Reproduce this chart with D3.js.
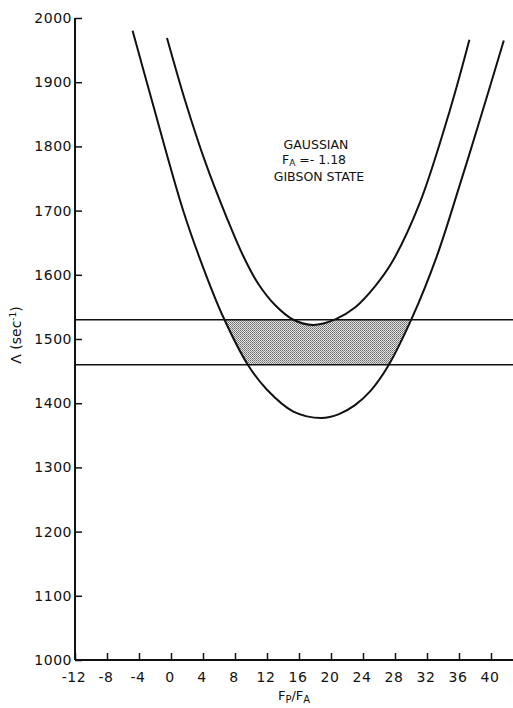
<!DOCTYPE html>
<html>
<head>
<meta charset="utf-8">
<script src="https://cdn.jsdelivr.net/npm/d3@7"></script>
<style>
    body { margin: 0; background: white; }
    text { font-family: "DejaVu Sans", "Liberation Sans", sans-serif; fill: #111; }
</style>
</head>
<body>
<script>
// tick values
const xTicks = [-12, -8, -4, 0, 4, 8, 12, 16, 20, 24, 28, 32, 36, 40];
const yTicks = [1000, 1100, 1200, 1300, 1400, 1500, 1600, 1700, 1800, 1900, 2000];

// lower (outer) curve: Fp/Fa and Lambda
const lowerX = [-4.8, -2.4, 1.5, 4, 6.5, 9.6, 12, 15.3, 18.8, 21, 23, 25, 27.1, 30.1, 33.2, 36.1, 38.7, 41.6];
const lowerY = [1980, 1872, 1701, 1612, 1535, 1460, 1421, 1387, 1377, 1383, 1397, 1420, 1457, 1532, 1628, 1740, 1845, 1965];

// upper (inner) curve
const upperX = [-0.5, 1.75, 4.3, 7, 9, 10.9, 13, 15.3, 17.8, 20.6, 23, 25.5, 27.6, 31.1, 34.9, 37.3];
const upperY = [1969, 1872, 1775, 1688, 1630, 1586, 1553, 1530, 1522, 1531, 1549, 1582, 1619, 1712, 1858, 1966];

// horizontal band limits
const bandLines = [1530, 1460];

const width = 513;
const height = 708;

let svg = d3.select('body')
    .append('svg')
    .attr('width', width)
    .attr('height', height);

const x = d3.scaleLinear().domain([-12, 40]).range([75, 491]);
const y = d3.scaleLinear().domain([1000, 2000]).range([660, 18]);

const lower = lowerX.map((d, i) => [d, lowerY[i]]);
const upper = upperX.map((d, i) => [d, upperY[i]]);

// stipple pattern for the shaded band
let defs = svg.append('defs');
let pat = defs.append('pattern')
    .attr('id', 'dots')
    .attr('width', 2)
    .attr('height', 2)
    .attr('patternUnits', 'userSpaceOnUse');
pat.append('rect').attr('width', 2).attr('height', 2).attr('fill', '#e6e6e6');
pat.append('rect').attr('width', 1).attr('height', 1).attr('fill', '#666');
pat.append('rect').attr('x', 1).attr('y', 1).attr('width', 1).attr('height', 1).attr('fill', '#8a8a8a');

defs.append('clipPath')
    .attr('id', 'band')
    .append('rect')
    .attr('x', x(-12))
    .attr('y', y(bandLines[0]))
    .attr('width', width - x(-12))
    .attr('height', y(bandLines[1]) - y(bandLines[0]));

const line = d3.line()
    .x(d => x(d[0]))
    .y(d => y(d[1]))
    .curve(d3.curveCatmullRom.alpha(0.5));

// shaded region: between the two curves, inside the band
const shadePath = line(lower) + 'L' + line(upper.slice().reverse()).slice(1) + 'Z';
svg.append('path')
    .attr('d', shadePath)
    .attr('fill', 'url(#dots)')
    .attr('clip-path', 'url(#band)');

// band lines
svg.selectAll('.band')
    .data(bandLines)
    .enter()
    .append('line')
    .attr('x1', x(-12))
    .attr('x2', width)
    .attr('y1', d => y(d))
    .attr('y2', d => y(d))
    .style('stroke', '#111')
    .style('stroke-width', 1.5);

// curves
svg.selectAll('.curve')
    .data([lower, upper])
    .enter()
    .append('path')
    .attr('d', line)
    .style('fill', 'none')
    .style('stroke', '#111')
    .style('stroke-width', 2);

// axes (ticks point inward)
svg.append('g')
    .attr('transform', `translate(${x(-12)},0)`)
    .call(d3.axisRight(y).tickValues(yTicks).tickSize(7).tickFormat(''));
svg.append('g')
    .attr('transform', `translate(0,${y(1000)})`)
    .call(d3.axisTop(x).tickValues(xTicks).tickSize(7).tickFormat(''));
svg.selectAll('.domain').remove();
svg.selectAll('.tick line').style('stroke', '#111').style('stroke-width', 1.5);

svg.append('line')
    .attr('x1', x(-12)).attr('x2', x(-12))
    .attr('y1', y(1000)).attr('y2', y(2000))
    .style('stroke', '#111').style('stroke-width', 2);
svg.append('line')
    .attr('x1', x(-12)).attr('x2', width)
    .attr('y1', y(1000)).attr('y2', y(1000))
    .style('stroke', '#111').style('stroke-width', 2);

// tick labels
svg.selectAll('.ylab')
    .data(yTicks)
    .enter()
    .append('text')
    .attr('x', x(-12) - 3)
    .attr('y', d => y(d) + 5)
    .attr('text-anchor', 'end')
    .style('font-size', '14px')
    .style('letter-spacing', '0.5px')
    .text(d => d);

svg.selectAll('.xlab')
    .data(xTicks)
    .enter()
    .append('text')
    .attr('x', d => x(d) - 1)
    .attr('y', 682)
    .attr('text-anchor', 'middle')
    .style('font-size', '14px')
    .style('letter-spacing', '0.5px')
    .text(d => d);

// axis titles
let xt = svg.append('text')
    .attr('x', 294)
    .attr('y', 700)
    .attr('text-anchor', 'middle')
    .style('font-size', '13px');
xt.append('tspan').text('F');
xt.append('tspan').attr('dy', 3).style('font-size', '10px').text('P');
xt.append('tspan').attr('dy', -3).text('/F');
xt.append('tspan').attr('dy', 3).style('font-size', '10px').text('A');

let yt = svg.append('text')
    .attr('transform', 'translate(21,335) rotate(-90)')
    .attr('text-anchor', 'middle')
    .style('font-size', '14px');
yt.append('tspan').text('Λ (sec');
yt.append('tspan').attr('dy', -5).style('font-size', '9px').text('-1');
yt.append('tspan').attr('dy', 5).text(')');

// annotation
svg.append('text')
    .attr('x', 316).attr('y', 149)
    .attr('text-anchor', 'middle')
    .style('font-size', '12.5px')
    .text('GAUSSIAN');
let fa = svg.append('text')
    .attr('x', 314).attr('y', 164)
    .attr('text-anchor', 'middle')
    .style('font-size', '12.5px');
fa.append('tspan').text('F');
fa.append('tspan').attr('dy', 2).style('font-size', '9px').text('A');
fa.append('tspan').attr('dy', -2).text(' =- 1.18');
svg.append('text')
    .attr('x', 319).attr('y', 181)
    .attr('text-anchor', 'middle')
    .style('font-size', '12.5px')
    .text('GIBSON STATE');
</script>
</body>
</html>
